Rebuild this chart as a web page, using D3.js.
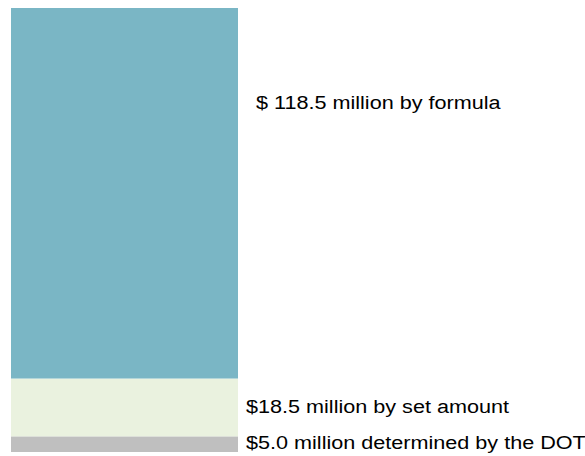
<!DOCTYPE html>
<html>
<head>
<meta charset="utf-8">
<script src="https://cdn.jsdelivr.net/npm/d3@7"></script>
<style>
  body { margin: 0; background: #fff; }
  text { font-family: "Liberation Sans", Arial, sans-serif; fill: #000; }
</style>
</head>
<body>
<div id="chart"></div>
<script>
// Funding pieces, bottom to top
const parts = ["dot", "set", "formula"];
const amounts = [5.0, 18.5, 118.5];
const labels = [
  "$5.0 million determined by the DOT",
  "$18.5 million by set amount",
  "$ 118.5 million by formula"
];
const colors = ["#bfbfbf", "#eaf2df", "#7ab6c5"];

const W = 585;
const H = 456;

const svg = d3.select("#chart")
  .append("svg")
  .attr("width", W)
  .attr("height", H);

// running totals for the stack
var bottoms = [];
var acc = 0;
amounts.forEach((v) => { bottoms.push(acc); acc += v; });

const y = d3.scaleLinear().domain([0, acc]).range([452, 8]);
const x = d3.scaleBand().domain(["total"]).range([11, 238]).padding(0);

svg.append("g")
  .selectAll("rect")
  .data(parts)
  .enter()
  .append("rect")
  .attr("x", x("total"))
  .attr("width", x.bandwidth())
  .attr("y", (d, i) => y(bottoms[i] + amounts[i]))
  .attr("height", (d, i) => y(bottoms[i]) - y(bottoms[i] + amounts[i]))
  .attr("fill", (d, i) => colors[i]);

// labels: offset from bar edge, vertical spot tweaked per label
const labelDx = [8, 8, 18];
const labelY = [449, 413, 109];
const STRETCH = 1.2; // the original type is set wide

svg.append("g")
  .selectAll("text")
  .data(labels)
  .enter()
  .append("text")
  .attr("x", (d, i) => x("total") + x.bandwidth() + labelDx[i])
  .attr("y", (d, i) => labelY[i])
  .style("font-size", "18px")
  .text((d) => d)
  .each(function () {
    var len = this.getComputedTextLength();
    d3.select(this)
      .attr("textLength", len * STRETCH)
      .attr("lengthAdjust", "spacingAndGlyphs");
  });
</script>
</body>
</html>
